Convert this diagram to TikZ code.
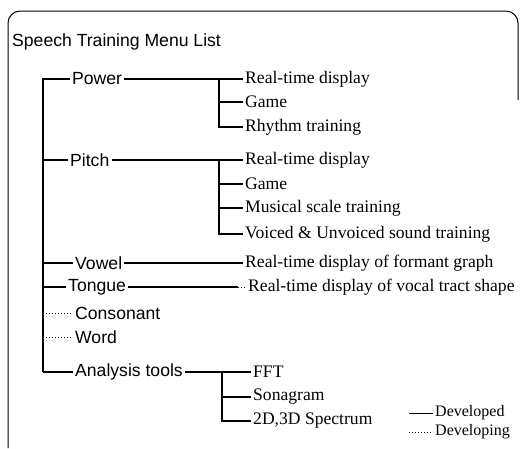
\documentclass[tikz,border=0pt]{standalone}
\usepackage{fontspec}
\setmainfont{Liberation Serif}
\setsansfont{Liberation Sans}
\usepackage{tikz}
\usetikzlibrary{positioning}

\tikzset{
  menu/.style={font=\sffamily\fontsize{17.6}{20}\selectfont, anchor=west, inner sep=2pt},
  item/.style={font=\rmfamily\fontsize{17.6}{20}\selectfont, anchor=west, inner sep=2pt},
  key/.style={font=\rmfamily\fontsize{16}{18}\selectfont, anchor=west, inner sep=2pt},
  done/.style={line width=1.8pt},
  todo/.style={line width=1pt, dotted}
}

\begin{document}
\begin{tikzpicture}[x=1pt,y=-1pt]
\useasboundingbox (0,0) rectangle (520,448);
\draw[line width=1pt, rounded corners=12pt] (8,448) -- (8,11) -- (518,11) -- (518,100);

\node[menu] (title) at (10,42) {Speech Training Menu List};

% first level
\node[menu] (pow) at (70,79) {Power};
\node[menu] (pit) at (68,160) {Pitch};
\node[menu] (vow) at (73,263) {Vowel};
\node[menu] (ton) at (66,287) {Tongue};
\node[menu] (con) at (73,313) {Consonant};
\node[menu] (wrd) at (73,337) {Word};
\node[menu] (ana) at (73,372) {Analysis tools};

\coordinate (t1) at (43,79);
\coordinate (t2) at (43,372);

% second level
\node[item] (pow1) at (243,79) {Real-time display};
\node[item] (pow2) at (243,102) {Game};
\node[item] (pow3) at (243,127) {Rhythm training};
\node[item] (pit1) at (243,160) {Real-time display};
\node[item] (pit2) at (243,184) {Game};
\node[item] (pit3) at (243,208) {Musical scale training};
\node[item] (pit4) at (243,234) {Voiced \& Unvoiced sound training};
\node[item] (vow1) at (243,263) {Real-time display of formant graph};
\node[item] (ton1) at (246,287) {Real-time display of vocal tract shape};
\node[item] (ana1) at (251,372) {FFT};
\node[item] (ana2) at (251,397) {Sonagram};
\node[item] (ana3) at (251,421) {2D,3D Spectrum};

\coordinate (s1) at (219,79);
\coordinate (s2) at (219,160);
\coordinate (s3) at (222,372);
\coordinate (tg) at (238,287);

% legend
\node[key] (dev) at (433,413) {Developed};
\node[key] (dvg) at (433,432) {Developing};
\coordinate (l1) at (409,413);
\coordinate (l2) at (409,432);

\draw[done] (t2) -- (t1) -- (pow.west);
\draw[done] (t1 |- pit) -- (pit.west);
\draw[done] (t1 |- vow) -- (vow.west);
\draw[done] (t1 |- ton) -- (ton.west);
\draw[done] (t1 |- ana) -- (ana.west);
\draw[todo] (t1 |- con) -- (con.west);
\draw[todo] (t1 |- wrd) -- (wrd.west);

\draw[done] (pow.east) -- (pow1.west);
\draw[done] (s1) |- (pow3.west);
\draw[done] (s1 |- pow2) -- (pow2.west);

\draw[done] (pit.east) -- (pit1.west);
\draw[done] (s2) |- (pit4.west);
\draw[done] (s2 |- pit2) -- (pit2.west);
\draw[done] (s2 |- pit3) -- (pit3.west);

\draw[done] (vow.east) -- (vow1.west);
\draw[done] (ton.east) -- (tg);
\draw[todo] (tg) -- (ton1.west);

\draw[done] (ana.east) -- (ana1.west);
\draw[done] (s3) |- (ana3.west);
\draw[done] (s3 |- ana2) -- (ana2.west);

\draw[line width=1pt] (l1) -- (dev.west);
\draw[todo] (l2) -- (dvg.west);
\end{tikzpicture}
\end{document}
